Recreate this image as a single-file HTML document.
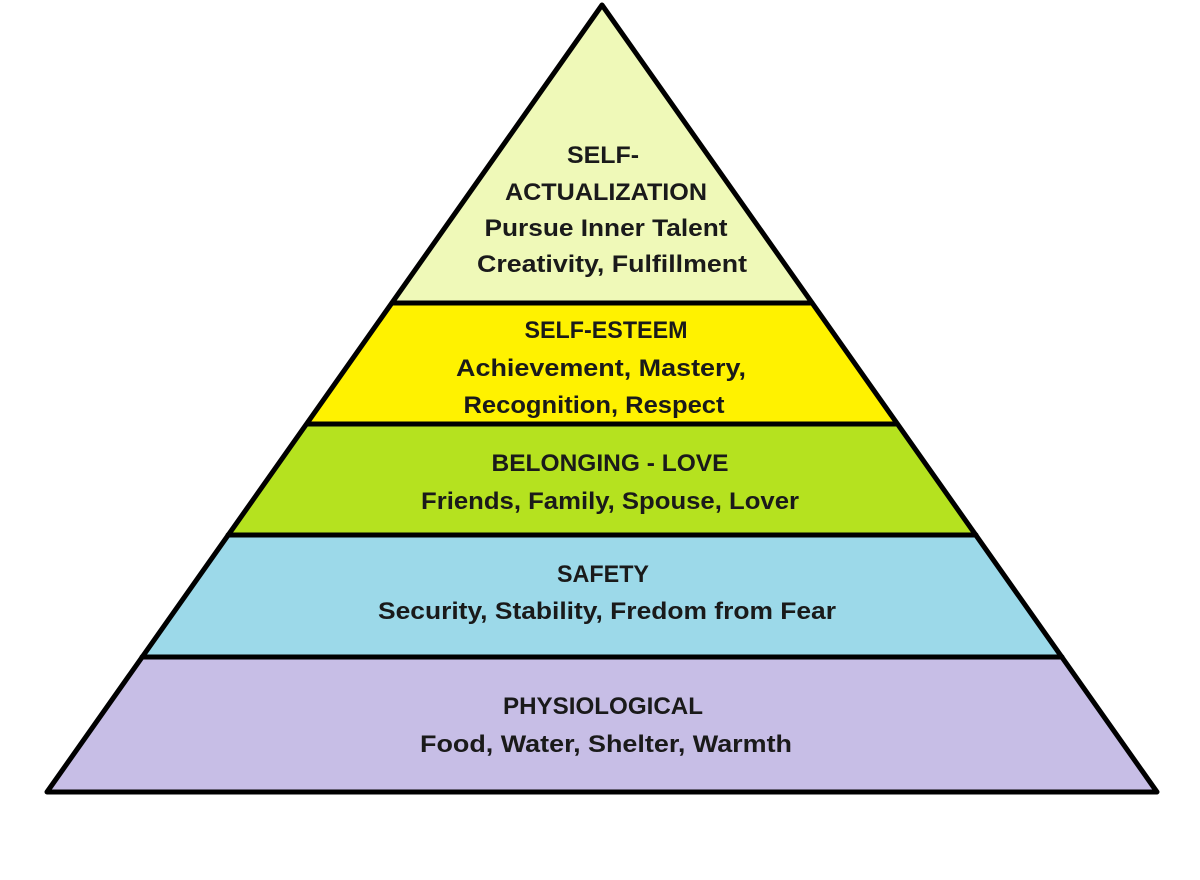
<!DOCTYPE html>
<html><head><style>
html,body{margin:0;padding:0;background:#fff;}
svg{display:block;}
text{font-family:"Liberation Sans",sans-serif;font-weight:bold;font-size:24px;fill:#1a1a1a;text-anchor:middle;}
</style></head><body>
<svg width="1200" height="880" viewBox="0 0 1200 880">
<polygon points="602,5 812,303 392,303" fill="#eff9b8"/>
<polygon points="392,303 812,303 897,424 307,424" fill="#fff200"/>
<polygon points="307,424 897,424 976,535 228,535" fill="#b5e21f"/>
<polygon points="228,535 976,535 1062,657 142,657" fill="#9cd9e9"/>
<polygon points="142,657 1062,657 1157,792 47,792" fill="#c7bee6"/>
<g stroke="#000" stroke-width="5" stroke-linecap="round">
<line x1="392" y1="303" x2="812" y2="303"/>
<line x1="307" y1="424" x2="897" y2="424"/>
<line x1="228" y1="535" x2="976" y2="535"/>
<line x1="142" y1="657" x2="1062" y2="657"/>
</g>
<polygon points="602,5 1157,792 47,792" fill="none" stroke="#000" stroke-width="5" stroke-linejoin="round"/>
<text x="603" y="163" textLength="72" lengthAdjust="spacingAndGlyphs">SELF-</text>
<text x="606" y="200" textLength="202" lengthAdjust="spacingAndGlyphs">ACTUALIZATION</text>
<text x="606" y="236" textLength="243" lengthAdjust="spacingAndGlyphs">Pursue Inner Talent</text>
<text x="612" y="272" textLength="270" lengthAdjust="spacingAndGlyphs">Creativity, Fulfillment</text>
<text x="606" y="338" textLength="163" lengthAdjust="spacingAndGlyphs">SELF-ESTEEM</text>
<text x="601" y="376" textLength="290" lengthAdjust="spacingAndGlyphs">Achievement, Mastery,</text>
<text x="594" y="413" textLength="261" lengthAdjust="spacingAndGlyphs">Recognition, Respect</text>
<text x="610" y="471" textLength="237" lengthAdjust="spacingAndGlyphs">BELONGING - LOVE</text>
<text x="610" y="509" textLength="378" lengthAdjust="spacingAndGlyphs">Friends, Family, Spouse, Lover</text>
<text x="603" y="582" textLength="92" lengthAdjust="spacingAndGlyphs">SAFETY</text>
<text x="607" y="619" textLength="458" lengthAdjust="spacingAndGlyphs">Security, Stability, Fredom from Fear</text>
<text x="603" y="714" textLength="200" lengthAdjust="spacingAndGlyphs">PHYSIOLOGICAL</text>
<text x="606" y="752" textLength="372" lengthAdjust="spacingAndGlyphs">Food, Water, Shelter, Warmth</text>
</svg>
</body></html>
